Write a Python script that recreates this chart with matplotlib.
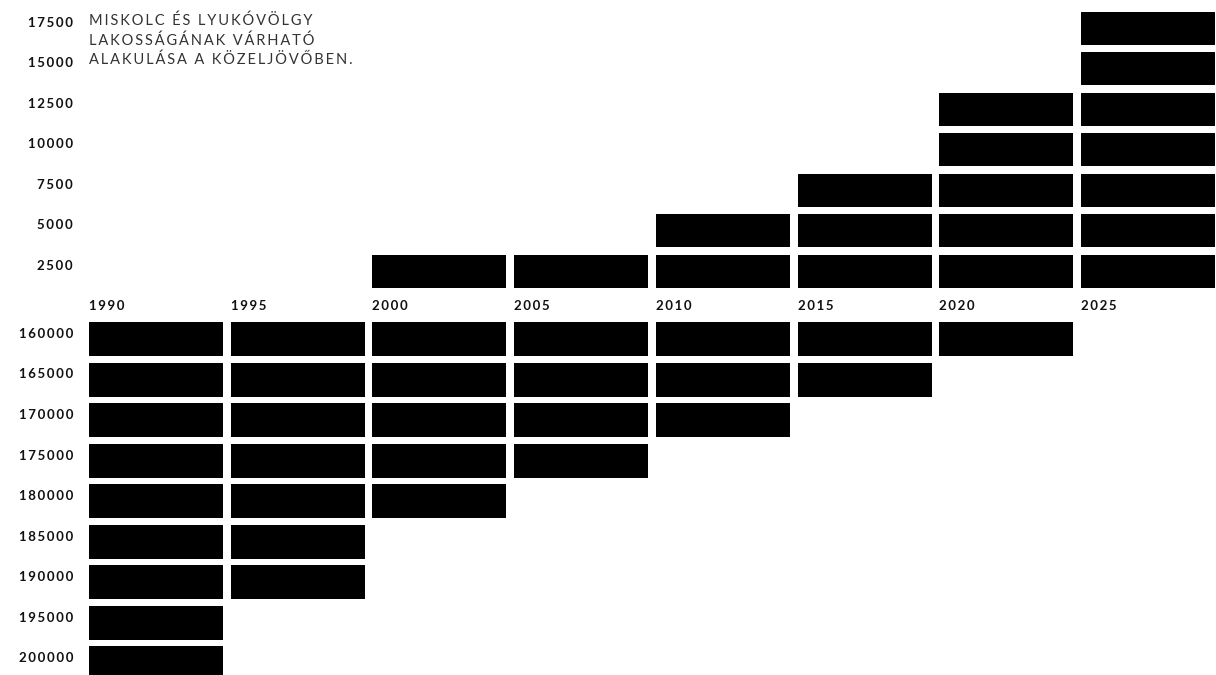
import numpy as np
import matplotlib.pyplot as plt

plt.rcParams['font.family'] = ['Lato', 'DejaVu Sans']

years = [1990, 1995, 2000, 2005, 2010, 2015, 2020, 2025]
# Lyukóvölgy population, one block per 2500 people
lyukovolgy = [0, 0, 2500, 2500, 5000, 7500, 12500, 17500]
# Miskolc population, blocks hang down from 160000 in steps of 5000
miskolc = [200000, 190000, 180000, 175000, 170000, 165000, 160000, 155000]

top_ticks = [2500, 5000, 7500, 10000, 12500, 15000, 17500]
bot_ticks = [160000, 165000, 170000, 175000, 180000, 185000, 190000, 195000, 200000]

title = ['MISKOLC ÉS LYUKÓVÖLGY', 'LAKOSSÁGÁNAK VÁRHATÓ', 'ALAKULÁSA A KÖZELJÖVŐBEN.']


def spaced(s, sep='\u2009'):
    return sep.join(str(s))


W, H = 1216, 675
col = 141.7      # column pitch in px
row = 40.55      # row pitch in px
fig = plt.figure(figsize=(W / 100, H / 100), dpi=100)
left = 89 / W
ax_top = fig.add_axes([left, (H - 288) / H, 1 - left, 7 * row / H])
ax_bot = fig.add_axes([left, 0, 1 - left, (H - 322) / H])

xmax = (W - 89) / col
bw = 134 / col

# upper part: Lyukóvölgy
for i, v in enumerate(lyukovolgy):
    n = v // 2500
    if n:
        ax_top.bar([i] * n, 33 / row, bottom=np.arange(n), width=bw,
                   align='edge', color='black', linewidth=0)
ax_top.set_xlim(0, xmax)
ax_top.set_ylim(0, 7)
ax_top.set_xticks([])
ax_top.set_yticks(np.arange(len(top_ticks)) + 0.57,
                  [spaced(t) for t in top_ticks])

# lower part: Miskolc, growing downwards
for i, v in enumerate(miskolc):
    n = (v - 160000) // 5000 + 1 if v >= 160000 else 0
    if n:
        ax_bot.bar([i] * n, 34 / row, bottom=np.arange(n), width=bw,
                   align='edge', color='black', linewidth=0)
ax_bot.set_xlim(0, xmax)
ax_bot.set_ylim((H - 322) / row, 0)
ax_bot.set_yticks(np.arange(len(bot_ticks)) + 0.27,
                  [spaced(t) for t in bot_ticks])
ax_bot.xaxis.tick_top()
ax_bot.set_xticks(np.arange(len(years)), [spaced(y) for y in years])
for lab in ax_bot.get_xticklabels():
    lab.set_horizontalalignment('left')

for ax in (ax_top, ax_bot):
    for s in ax.spines.values():
        s.set_visible(False)
    ax.tick_params(length=0, labelsize=9.5, labelcolor='#111111')
    ax.tick_params(axis='y', pad=11.5)
    for lab in ax.get_yticklabels() + ax.get_xticklabels():
        lab.set_fontweight('bold')
    ax.patch.set_alpha(0)
ax_bot.tick_params(axis='x', pad=7)

for k, line in enumerate(title):
    fig.text(89 / W, 1 - (21 + k * 19.5) / H, spaced(line, '\u2009'),
             fontsize=10.5, fontweight='normal', va='center', ha='left',
             color='#333333')

fig.savefig('out.png', dpi=100)
